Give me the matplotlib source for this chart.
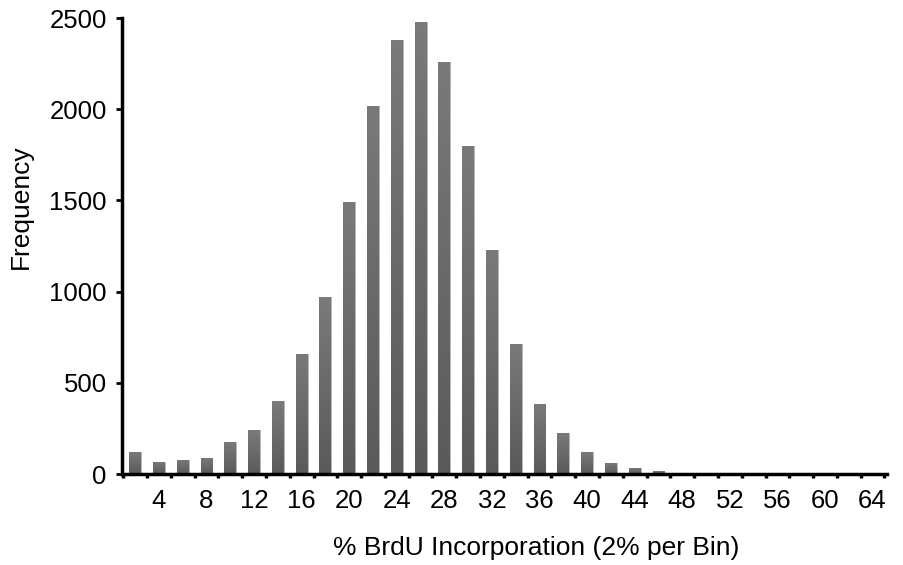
import numpy as np
import matplotlib.pyplot as plt
from matplotlib.colors import to_rgb

plt.rcParams['font.family'] = ['Liberation Sans', 'DejaVu Sans']

# bin centres (% BrdU, 2% per bin) and counts
bins = np.arange(2, 66, 2)
freq = [120, 66, 77, 88, 175, 240, 400, 658, 970, 1492, 2020, 2380, 2478, 2259,
        1800, 1230, 715, 383, 224, 120, 60, 33, 16, 8, 2, 1, 0, 0, 0, 0, 0, 0]
xticks = np.arange(4, 68, 4)
yticks = [0, 500, 1000, 1500, 2000, 2500]

fig = plt.figure(figsize=(9.04, 5.65), dpi=100)
ax = fig.add_axes([0.135, 0.161, 0.846, 0.807])

bars = ax.bar(bins, freq, width=1.0, color='#666666', edgecolor='#b8b8b8',
              linewidth=0.6, zorder=2)

# vertical grey gradient inside each bar: darker at the bottom, lighter on top
bottom_c = np.array(to_rgb('#5a5a5a'))
top_c = np.array(to_rgb('#7a7a7a'))
t = np.linspace(0, 1, 128).reshape(-1, 1, 1)
grad = bottom_c + (top_c - bottom_c) * t
for b in bars:
    x0, y0 = b.get_x(), b.get_y()
    w, h = b.get_width(), b.get_height()
    if h <= 0:
        continue
    im = ax.imshow(grad, aspect='auto', extent=[x0, x0 + w, y0, y0 + h],
                   origin='lower', zorder=2.5)
    im.set_clip_path(b)

ax.set_xlim(0.9, 65.2)
ax.set_ylim(0, 2500)
ax.set_xticks(xticks)
ax.set_xticks(np.arange(1, 66, 2), minor=True)
ax.set_yticks(yticks)

ax.tick_params(axis='x', which='major', length=0, pad=11, labelsize=18.5)
ax.tick_params(axis='x', which='minor', length=3, width=2.5, direction='out')
ax.tick_params(axis='y', length=4, width=2, direction='out', pad=7, labelsize=18.5)

for s in ['top', 'right']:
    ax.spines[s].set_visible(False)
for s in ['left', 'bottom']:
    ax.spines[s].set_linewidth(2.5)

# axis titles sit off-centre in the original
fig.text(536 / 904, 1 - 548 / 565, '% BrdU Incorporation (2% per Bin)',
         fontsize=19, ha='center', va='center')
fig.text(21 / 904, 1 - 207 / 565, 'Frequency', fontsize=19, rotation=90,
         ha='center', va='center')

fig.savefig('out.png', dpi=100)
